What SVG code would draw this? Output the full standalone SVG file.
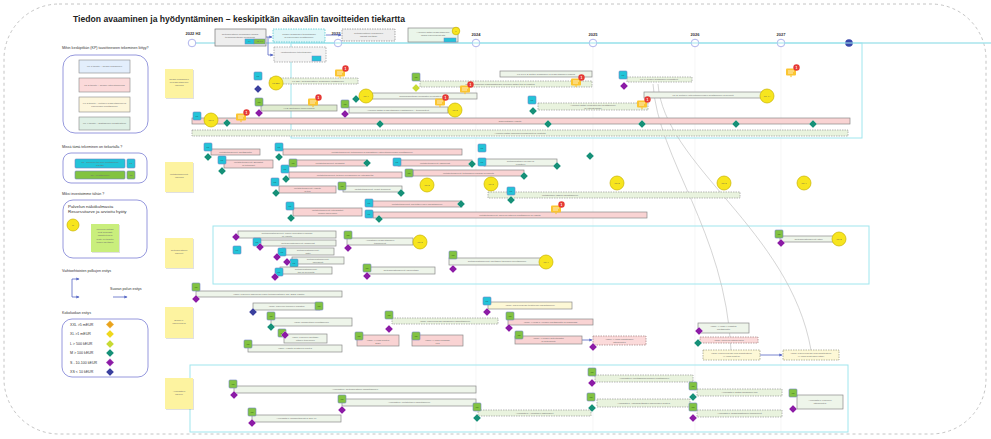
<svg xmlns="http://www.w3.org/2000/svg" width="991" height="439" viewBox="0 0 991 439">
<defs>
<style>
text{font-family:"Liberation Sans",Arial,sans-serif}
.t{font-size:2.4px;fill:#6d6d6d;text-anchor:middle}
.lt{font-size:3.6px;fill:#333}
.yr{font-size:4px;font-weight:bold;fill:#333;text-anchor:middle}
.bp{fill:#f9d3d3;stroke:#8a8a8a;stroke-width:0.7}
.bg{fill:#eef5ea;stroke:#8a8a8a;stroke-width:0.7}
.bgd{fill:#dfeccf;stroke:#8a8a8a;stroke-width:0.7}
.bd{fill:#e9f3de;stroke:#9a9a9a;stroke-width:0.7;stroke-dasharray:1.5 1}
.bpd{fill:#fbdada;stroke:#a08080;stroke-width:0.7;stroke-dasharray:1.5 1}
.byd{fill:#fdf8d6;stroke:#9a9a80;stroke-width:0.7;stroke-dasharray:1.5 1}
.by{fill:#fdf8d6;stroke:#8a8a8a;stroke-width:0.7}
.kp{fill:#f7e51e;stroke:#c9b300;stroke-width:0.7}
.tk{font-size:2.3px;fill:#555;text-anchor:middle}
.dt{fill:#169078}.dp{fill:#8c1ba6}.db{fill:#3a3f9e}.dyg{fill:#c8da34}.do{fill:#e9a31c}.dy{fill:#efd81d}
.st{fill:#fdf3a0}
.sh{fill:#000;opacity:0.12}
.lane{fill:none;stroke:#9fe6ee;stroke-width:1}
.con{fill:none;stroke:#5566c4;stroke-width:0.8}
.crv{fill:none;stroke:#b8b8b8;stroke-width:0.6}
.grid{stroke:#f0f0f0;stroke-width:0.6}
</style>
<marker id="ar" viewBox="0 0 6 6" refX="5" refY="3" markerWidth="4" markerHeight="4" orient="auto"><path d="M0,0L6,3L0,6Z" fill="#5566c4"/></marker>
<path id="d" d="M0,-4L4,0L0,4L-4,0Z" stroke="#ffffff" stroke-width="0.3"/>
<g id="qc"><rect x="0" y="0" width="8" height="8" rx="1" fill="#23c4d8" stroke="#7084c4" stroke-width="0.6"/><text x="4" y="4.9" font-size="2.4" fill="#2a5560" text-anchor="middle">T1</text></g>
<g id="qg"><rect x="0" y="0" width="8" height="8" rx="1" fill="#82c341" stroke="#7084c4" stroke-width="0.6"/><text x="4" y="4.9" font-size="2.4" fill="#2f5a1a" text-anchor="middle">T2</text></g>
<g id="cm"><rect x="-5" y="-3.5" width="10" height="7" rx="1" fill="#fbc531"/><path d="M-1.2,3.4L0,5.4L1.2,3.4Z" fill="#fbc531"/><path d="M-3,-1H3M-3,1H2" stroke="#fff" stroke-width="0.7"/><circle cx="5.5" cy="-4.5" r="3.2" fill="#e53935"/><text x="5.5" y="-3.3" font-size="3.4" fill="#fff" text-anchor="middle" font-weight="bold">1</text></g>
</defs>

<rect x="0" y="0" width="991" height="439" fill="#ffffff"/>
<rect x="4" y="4" width="982" height="430" rx="55" fill="none" stroke="#b5b5b5" stroke-width="0.8" stroke-dasharray="3 3"/>

<g id="grid">
<line class="grid" x1="476" y1="46" x2="476" y2="432"/>
<line class="grid" x1="593" y1="46" x2="593" y2="432"/>
<line class="grid" x1="695" y1="46" x2="695" y2="432"/>
<line class="grid" x1="781" y1="46" x2="781" y2="432"/>
</g>

<text x="73" y="22" font-size="9.5" font-weight="bold" fill="#222" textLength="332" lengthAdjust="spacingAndGlyphs">Tiedon avaaminen ja hyödyntäminen – keskipitkän aikavälin tavoitteiden tiekartta</text>

<g id="timeline">
<line x1="192" y1="43" x2="991" y2="43" stroke="#a8e4ec" stroke-width="1.3"/>
<text class="yr" x="193" y="35">2022 H2</text>
<text class="yr" x="336" y="35">2023</text>
<text class="yr" x="476" y="36">2024</text>
<text class="yr" x="593" y="36">2025</text>
<text class="yr" x="695" y="36">2026</text>
<text class="yr" x="781" y="36">2027</text>
<g fill="#fff" stroke="#b0b4ec" stroke-width="1">
<circle cx="192" cy="43" r="3.8"/><circle cx="338" cy="43" r="3.8"/><circle cx="476" cy="43" r="3.8"/><circle cx="593" cy="43" r="3.8"/><circle cx="695" cy="43" r="3.8"/><circle cx="781" cy="43" r="3.8"/>
</g>
<circle cx="849" cy="43" r="3.8" fill="#3949ab"/>
</g>

<g id="lanes">
<rect class="lane" x="291" y="43" width="571" height="95"/>
<rect class="lane" x="213" y="226" width="656" height="58"/>
<rect class="lane" x="190" y="365" width="658" height="67"/>
</g>

<g id="legend-kp">
<text class="lt" x="62" y="49">Mihin keskipitkän (KP) tavoitteeseen tekeminen liittyy?</text>
<rect x="63" y="55" width="85" height="78" rx="12" fill="none" stroke="#7b7fd4" stroke-width="0.8"/>
<rect x="79" y="60" width="51" height="13" fill="#e3eefc" stroke="#888" stroke-width="0.6"/><text class="t" x="104.5" y="67.3">KP 1 tavoite – Tiedon avaaminen</text>
<rect x="79" y="78" width="51" height="14" fill="#fbdada" stroke="#888" stroke-width="0.6"/><text class="t" x="104.5" y="85.8">KP 2 tavoite – Tiedon yhteentoimivuus</text>
<rect x="79" y="97" width="51" height="15" fill="#fdf6dc" stroke="#888" stroke-width="0.6"/><text class="t" x="104.5" y="103.5">KP 3 tavoite – Tietojen hyödyntäminen ja</text><text class="t" x="104.5" y="106.8">palveluiden kehittäminen</text>
<rect x="79" y="117" width="51" height="13" fill="#dff0e6" stroke="#888" stroke-width="0.6"/><text class="t" x="104.5" y="124.3">KP 4 tavoite – Digitaalinen infrastruktuuri</text>
</g>

<g id="legend-where">
<text class="lt" x="62" y="148">Missä tämä tekeminen on tiekartalla ?</text>
<rect x="63" y="153" width="84" height="30" rx="8" fill="none" stroke="#7b7fd4" stroke-width="0.8"/>
<rect x="75" y="159" width="50" height="9" rx="1" fill="#23c4d8" stroke="#7084c4" stroke-width="0.6"/><text class="t" x="100" y="162.8" fill="#234">T1 - Tekninen tai muu kehittäminen</text><text class="t" x="100" y="165.8">(käyttö)</text>
<rect x="127" y="159" width="8" height="9" rx="1" fill="#23c4d8" stroke="#7084c4" stroke-width="0.6"/><text class="t" x="131" y="164.4">T1</text>
<rect x="75" y="171" width="50" height="8" rx="1" fill="#82c341" stroke="#7084c4" stroke-width="0.6"/><text class="t" x="100" y="175.8">T2 - Kehittäminen</text>
<rect x="127" y="171" width="8" height="8" rx="1" fill="#82c341" stroke="#7084c4" stroke-width="0.6"/><text class="t" x="131" y="175.8">T2</text>
</g>

<g id="legend-why">
<text class="lt" x="62" y="195">Miksi investoimme tähän ?</text>
<rect x="63" y="200" width="84" height="58" rx="10" fill="none" stroke="#7b7fd4" stroke-width="0.8"/>
<text x="68" y="207.5" font-size="4.4" fill="#333">Palvelun näkökulmasta</text>
<text x="68" y="212.5" font-size="4.4" fill="#333">Resurssitarve ja arvioitu hyöty</text>
<circle class="kp" cx="73" cy="225" r="6"/><text class="tk" x="73" y="225.8">M</text>
<rect class="sh" x="92" y="225" width="28" height="28"/>
<rect x="91" y="224" width="28" height="28" fill="#c9ee7c"/>
<text class="t" x="105" y="230">Palvelun mittarit</text><text class="t" x="105" y="233">ovat selkeästi</text><text class="t" x="105" y="236">määriteltyjä ja</text><text class="t" x="105" y="240">hyöty on todettu</text><text class="t" x="105" y="243">tiedon käyttäjille</text>
</g>

<g id="legend-paths">
<text class="lt" x="62" y="272">Vaihtoehtoisten polkujen esitys</text>
<path class="con" d="M72,288V279H79" marker-end="url(#ar)"/>
<path class="con" d="M72,288V297H79" marker-end="url(#ar)"/>
<text class="lt" x="110" y="290">Suoran polun esitys</text>
<path class="con" d="M113,297H127" marker-end="url(#ar)"/>
</g>

<g id="legend-size">
<text class="lt" x="62" y="314">Kokoluokan esitys</text>
<rect x="62" y="319" width="86" height="58" rx="10" fill="none" stroke="#7b7fd4" stroke-width="0.8"/>
<text class="lt" x="70" y="325.5">XXL &gt;5 mEUR</text><use href="#d" class="do" x="110" y="324.5"/>
<text class="lt" x="70" y="335">XL &gt;1 mEUR</text><use href="#d" class="dy" x="110" y="334"/>
<text class="lt" x="70" y="345">L &gt; 500 kEUR</text><use href="#d" class="dyg" x="110" y="344"/>
<text class="lt" x="70" y="354">M &gt; 100 kEUR</text><use href="#d" class="dt" x="110" y="353"/>
<text class="lt" x="70" y="363.5">S - 10-100 kEUR</text><use href="#d" class="dp" x="110" y="362.5"/>
<text class="lt" x="70" y="373">XS &lt; 10 kEUR</text><use href="#d" class="db" x="110" y="372"/>
</g>

<g id="sticky-1"><rect class="sh" x="166" y="70" width="28" height="29"/><rect class="st" x="165" y="69" width="28" height="29"/><text class="t" x="179" y="80">Tiedon avaaminen</text><text class="t" x="179" y="83">ja hyödyntäminen</text><text class="t" x="179" y="86">-ohjelma</text></g>
<g id="sticky-2"><rect class="sh" x="166" y="163" width="28" height="30"/><rect class="st" x="165" y="162" width="28" height="30"/><text class="t" x="179" y="175">Metatietopalvelut</text><text class="t" x="179" y="178">-ohjelma</text></g>
<g id="sticky-3"><rect class="sh" x="166" y="239" width="28" height="30"/><rect class="st" x="165" y="238" width="28" height="30"/><text class="t" x="179" y="251">Tietoaineistojen</text><text class="t" x="179" y="254">palvelut</text></g>
<g id="sticky-4"><rect class="sh" x="166" y="308" width="28" height="31"/><rect class="st" x="165" y="307" width="28" height="31"/><text class="t" x="179" y="321">Suomi.fi-</text><text class="t" x="179" y="324">palveluväylä</text></g>
<g id="sticky-5"><rect class="sh" x="166" y="379" width="28" height="31"/><rect class="st" x="165" y="378" width="28" height="31"/><text class="t" x="179" y="392">Avoindata.fi</text><text class="t" x="179" y="395">palvelu</text></g>

<g id="connectors">
<path class="crv" d="M653,84C658,160 725,230 731,350"/>
<path class="crv" d="M658,84C664,165 790,230 811,350"/>
<path class="con" d="M266,37H272" marker-end="url(#ar)"/>
<path class="con" d="M268,37V55H273" marker-end="url(#ar)"/>
<path class="con" d="M326,35H341" marker-end="url(#ar)"/>
<path class="con" d="M582,340H592" marker-end="url(#ar)"/>
<path class="con" d="M760,355H782" marker-end="url(#ar)"/>
</g>

<g id="top-1"><rect x="215" y="29" width="51" height="17" fill="#eeeeee" stroke="#777" stroke-width="0.7"/><text class="t" x="240" y="34.5">Tietoaineistojen avaamisen ohjaus</text><text class="t" x="240" y="37.5">tiedonhallintalain mukaisesti</text><rect x="245" y="39" width="9" height="5" fill="#23c4d8" stroke="#7084c4" stroke-width="0.5"/><rect x="254" y="39" width="11" height="5" fill="#82c341" stroke="#7084c4" stroke-width="0.5"/><text class="t" x="249.5" y="42.3">T1</text><text class="t" x="259.5" y="42.3">T2 T3</text></g>
<g id="top-2"><rect x="273" y="29" width="52" height="13" fill="#dff6f8" stroke="#46c0cc" stroke-width="0.7" stroke-dasharray="1.5 1"/><text class="t" x="299" y="34.5">Tiedon avaamisen toimintamalli</text><text class="t" x="299" y="37.5">ja palveluiden kehittäminen</text></g>
<g id="top-2b"><rect x="274" y="47" width="52" height="15" fill="#f3f3f3" stroke="#999" stroke-width="0.7" stroke-dasharray="1.5 1"/><text class="t" x="296" y="53">Vaihtoehtoinen toteutuspolku</text><rect x="312" y="56" width="9" height="5" fill="#23c4d8" stroke="#7084c4" stroke-width="0.5"/></g>
<g id="top-3"><rect x="342" y="29" width="53" height="12" fill="#eeeeee" stroke="#888" stroke-width="0.7" stroke-dasharray="1.5 1"/><text class="t" x="368.5" y="34">Tietoaineistojen avaaminen</text><text class="t" x="368.5" y="37">laajasti käyttöön</text></g>
<g id="top-4"><rect x="408" y="28" width="50" height="14" fill="#eaf6ea" stroke="#888" stroke-width="0.7"/><text class="t" x="433" y="33">Avoimen datan hyödyntäminen</text><text class="t" x="433" y="36">osana palvelukehitystä</text><rect x="444" y="38" width="12" height="4" fill="#23c4d8" stroke="#7084c4" stroke-width="0.5"/><circle class="kp" cx="456" cy="31" r="3.8"/><text class="tk" x="456" y="31.8">L</text></g>

<!-- Lane 1 -->
<g id="n-l1f"><rect class="bp" x="192" y="118" width="658" height="6"/><text class="t" x="510" y="121.9">Ohjelmatason ylläpito</text>
<rect class="bd" x="192" y="130" width="656" height="6"/><text class="t" x="520" y="133.9">Avoimen datan ohjelman koordinointi ja viestintä</text>
<use href="#qc" x="193" y="112"/><circle class="kp" cx="211" cy="120" r="7"/><text class="tk" x="211" y="120.8">KP 1</text>
<use href="#d" class="dt" x="227" y="123"/><use href="#d" class="dt" x="380" y="124"/><use href="#d" class="dt" x="548" y="124"/><use href="#d" class="dt" x="642" y="124"/><use href="#d" class="dt" x="736" y="124"/><use href="#d" class="dt" x="813" y="124"/></g>
<g id="n-l1a"><rect class="bd" x="270" y="78" width="88" height="6"/><text class="t" x="318" y="81.9">KP 3&amp;4: Tietoaineistojen avaamisen edistäminen</text><use href="#qc" x="254" y="72"/><use href="#d" class="db" x="258" y="89"/><circle class="kp" cx="276" cy="83" r="7"/><text class="tk" x="276" y="83.8">KP 3&amp;4</text></g>
<g id="n-l1b"><rect class="bg" x="500" y="71" width="92" height="6"/><text class="t" x="546" y="74.9">KP 1/KP 2: Datan avaamisen ja hyödyntämisen ohjaus</text><rect class="bd" x="420" y="81" width="172" height="6"/><text class="t" x="500" y="84.9">Julkisen hallinnon organisaatioiden avoimen datan tuki ja opastus</text><use href="#qg" x="412" y="73"/><use href="#d" class="dyg" x="416" y="88"/></g>
<g id="n-l1c"><rect class="bg" x="372" y="93" width="105" height="6"/><text class="t" x="424" y="96.9">Tiedonhallintalain mukaisten kuvausten ylläpito</text><use href="#d" class="dt" x="356" y="99"/><circle class="kp" cx="366" cy="96" r="7"/><text class="tk" x="366" y="96.8">KP 4</text></g>
<g id="n-l1d"><rect class="bg" x="349" y="107" width="99" height="6"/><text class="t" x="398" y="110.9">Avoimen datan hyödyntämisen edistäminen – toimenpiteet</text><use href="#qg" x="341" y="100"/><use href="#d" class="dp" x="345" y="114"/><circle class="kp" cx="455" cy="110" r="7"/><text class="tk" x="455" y="110.8">KP 3</text></g>
<g id="n-l1e"><rect class="bgd" x="261" y="105" width="76" height="6"/><text class="t" x="299" y="108.9">HVD-asetuksen toimeenpano</text><use href="#qg" x="255" y="98"/><use href="#d" class="dp" x="259" y="113"/></g>
<g id="n-l1g"><rect class="bd" x="627" y="77" width="65" height="5"/><text class="t" x="659" y="80.4">KP 1: Tiedon avaamisen periaatteet</text><use href="#qc" x="619" y="71"/><use href="#d" class="dp" x="624" y="86"/></g>
<g id="n-l1h"><rect class="bg" x="644" y="92" width="118" height="6"/><text class="t" x="703" y="95.9">KP 2: Tietojen yhteentoimivuuden kehittäminen ja arviointi</text><circle class="kp" cx="767" cy="96" r="7"/><text class="tk" x="767" y="96.8">KP 4A</text></g>
<g id="n-l1i"><rect class="bd" x="538" y="103" width="110" height="7"/><text class="t" x="593" y="105.8">Avoimen datan ekosysteemin kehittäminen</text><text class="t" x="593" y="108.6">ja yhteistyömalli</text><use href="#qc" x="528" y="96"/><use href="#d" class="dt" x="533" y="111"/></g>
<g id="comments-1">
<use href="#cm" x="340" y="73"/><use href="#cm" x="576" y="82"/><use href="#cm" x="465" y="89"/><use href="#cm" x="440" y="102"/><use href="#cm" x="313" y="102"/><use href="#cm" x="241" y="117"/><use href="#cm" x="642" y="104"/><use href="#cm" x="791" y="72"/>
</g>

<!-- Lane 2 -->
<g id="n-l2a"><rect class="bp" x="211" y="149" width="49" height="6"/><text class="t" x="235.5" y="152.9">Metatietopalvelut: käyttöönotto</text><use href="#qc" x="204" y="143"/><use href="#d" class="dt" x="208" y="157"/></g>
<g id="n-l2b"><rect class="bp" x="224" y="160" width="49" height="8"/><text class="t" x="248.5" y="163.3">Metatietopalvelut: Sanastot</text><text class="t" x="248.5" y="166.3">ja tietomallit</text><use href="#qc" x="218" y="156"/><use href="#d" class="dt" x="222" y="171"/></g>
<g id="n-l2c"><rect class="bp" x="283" y="149" width="179" height="6"/><text class="t" x="372" y="152.9">Metatietopalvelut: tietomallien ja sanastojen yhteentoimivuuden kehittäminen</text><use href="#qc" x="275" y="143"/><use href="#d" class="dt" x="279" y="157"/></g>
<g id="n-l2d"><rect class="bp" x="293" y="160" width="74" height="6"/><text class="t" x="330" y="163.9">Metatietopalvelut: koodistot</text><use href="#qg" x="289" y="159"/><use href="#d" class="dt" x="367" y="163"/></g>
<g id="n-l2e"><rect class="bp" x="289" y="172" width="113" height="6"/><text class="t" x="345" y="175.9">Metatietopalvelut: tietojen kuvaaminen ja yhteiskäyttö</text><use href="#qc" x="281" y="165"/><use href="#d" class="dt" x="286" y="179"/></g>
<g id="n-l2f"><rect class="bp" x="279" y="186" width="57" height="7"/><text class="t" x="307.5" y="188.8">Metatietopalvelut: ylläpito</text><text class="t" x="307.5" y="191.6">ja tuki</text><use href="#qc" x="271" y="178"/><use href="#d" class="dt" x="276" y="193"/></g>
<g id="n-l2g"><rect class="bg" x="343" y="186" width="59" height="6"/><text class="t" x="372.5" y="189.9">Metatietopalvelut: uudet toiminnot</text><use href="#qg" x="338" y="182"/><use href="#d" class="dt" x="401" y="193"/></g>
<g id="n-l2h"><rect class="bp" x="293" y="208" width="69" height="8"/><text class="t" x="327.5" y="211.3">Metatietopalvelut: integraatiot</text><text class="t" x="327.5" y="214.3">muihin palveluihin</text><use href="#qc" x="286" y="202"/><use href="#d" class="dt" x="291" y="218"/></g>
<g id="n-l2i"><rect class="bp" x="398" y="160" width="74" height="6"/><text class="t" x="435" y="163.9">Metatietopalvelut: rajapinnat</text><use href="#qc" x="393" y="158"/><use href="#d" class="dt" x="472" y="164"/></g>
<g id="n-l2j"><rect class="bp" x="413" y="170" width="111" height="6"/><text class="t" x="468.5" y="173.9">Metatietopalvelut: tietomallien julkaisu ja hallinta</text><use href="#qg" x="405" y="169"/><use href="#d" class="dt" x="524" y="176"/></g>
<g id="n-l2k"><rect class="bp" x="372" y="201" width="90" height="6"/><text class="t" x="417" y="204.9">Metatietopalvelut: käytettävyyden parantaminen</text><use href="#qc" x="365" y="199"/><use href="#d" class="dt" x="461" y="204"/></g>
<g id="n-l2l"><rect class="bp" x="373" y="212" width="274" height="6"/><text class="t" x="510" y="215.9">Metatietopalvelut: palvelun jatkuva kehittäminen ja ylläpito</text><use href="#qc" x="365" y="210"/><use href="#d" class="dt" x="379" y="219"/></g>
<g id="n-l2m"><use href="#qc" x="478" y="144"/></g>
<g id="n-l2n"><rect class="bg" x="484" y="159" width="73" height="7"/><text class="t" x="520.5" y="161.8">Tietoaineistojen kuvailu ja</text><text class="t" x="520.5" y="164.6">luokittelu</text><use href="#qc" x="478" y="158"/><use href="#d" class="dt" x="557" y="166"/></g>
<g id="n-l2o"><rect class="bd" x="488" y="192" width="252" height="6"/><text class="t" x="560" y="195.9">Metatietojen laadun parantaminen</text><use href="#qc" x="507" y="187"/><use href="#d" class="dt" x="511" y="200"/></g>
<g id="n-l2p"><use href="#d" class="dt" x="590" y="156"/><use href="#cm" x="556" y="209"/></g>
<g id="kp-l2">
<circle class="kp" cx="427" cy="185" r="7"/><text class="tk" x="427" y="185.8">KP 2</text>
<circle class="kp" cx="491" cy="184" r="7"/><text class="tk" x="491" y="184.8">KP 3</text>
<circle class="kp" cx="617" cy="183" r="7"/><text class="tk" x="617" y="183.8">KP 2</text>
<circle class="kp" cx="724" cy="183" r="7"/><text class="tk" x="724" y="183.8">KP 3</text>
<circle class="kp" cx="804" cy="183" r="7"/><text class="tk" x="804" y="183.8">KP 4</text>
</g>

<!-- Lane 3 -->
<g id="n-l3a"><rect class="bg" x="238" y="231" width="98" height="7"/><text class="t" x="287" y="233.8">Tietoaineistopalvelut: uusien aineistojen julkaisu</text><text class="t" x="287" y="236.6">ja ylläpito</text><use href="#d" class="dp" x="236" y="237"/></g>
<g id="n-l3b"><rect class="bg" x="260" y="240" width="76" height="6"/><text class="t" x="298" y="243.9">Tietoaineistopalvelut: rajapinnat</text><use href="#qc" x="253" y="238"/><use href="#d" class="dp" x="260" y="247"/></g>
<g id="n-l3c"><use href="#qc" x="233" y="246"/></g>
<g id="n-l3d"><rect class="bg" x="282" y="248" width="52" height="7"/><text class="t" x="308" y="250.8">Tietoaineistopalvelut:</text><text class="t" x="308" y="253.6">laatu</text><use href="#qc" x="278" y="248"/><use href="#d" class="dp" x="277" y="257"/></g>
<g id="n-l3e"><rect class="bg" x="292" y="257" width="52" height="7"/><text class="t" x="318" y="259.8">Tietoaineistopalvelut:</text><text class="t" x="318" y="262.6">lisensointi</text><use href="#qc" x="290" y="259"/><use href="#d" class="dp" x="287" y="262"/></g>
<g id="n-l3f"><rect class="bg" x="280" y="267" width="52" height="7"/><text class="t" x="306" y="269.8">Tietoaineistopalvelut:</text><text class="t" x="306" y="272.6">tuki ja neuvonta</text><use href="#qc" x="275" y="268"/><use href="#d" class="dp" x="275" y="277"/></g>
<g id="n-l3g"><rect class="bg" x="347" y="238" width="66" height="7"/><text class="t" x="380" y="240.8">Aineistojen hyödyntämisen</text><text class="t" x="380" y="243.6">tukipalvelut</text><use href="#qg" x="344" y="231"/><use href="#d" class="dp" x="348" y="248"/><circle class="kp" cx="420" cy="242" r="7"/><text class="tk" x="420" y="242.8">KP 3</text></g>
<g id="n-l3h"><rect class="bg" x="367" y="267" width="68" height="7"/><text class="t" x="401" y="271.3">Tietoaineistopalvelut: palvelutaso</text><use href="#qg" x="363" y="264"/><use href="#d" class="dp" x="367" y="276"/></g>
<g id="n-l3i"><rect class="bg" x="449" y="258" width="96" height="7"/><text class="t" x="497" y="262.3">Tietoaineistopalvelut: käyttäjien tarpeiden selvittäminen</text><use href="#qg" x="449" y="251"/><use href="#d" class="dp" x="453" y="269"/><circle class="kp" cx="546" cy="262" r="7"/><text class="tk" x="546" y="262.8">KP 4</text></g>
<g id="n-l3j"><rect class="bg" x="780" y="236" width="57" height="6"/><text class="t" x="808.5" y="239.9">Tietoaineistopalvelut: jatko</text><use href="#qg" x="775" y="230"/><use href="#d" class="dp" x="781" y="243"/><circle class="kp" cx="839" cy="239" r="7"/><text class="tk" x="839" y="239.8">KP 2</text></g>

<!-- Lane 4 -->
<g id="n-l4a"><rect class="bg" x="196" y="291" width="146" height="6"/><text class="t" x="269" y="294.9">Vaihe: Palvelun laajennus uusiin tietoaineistoihin (sis. 2023 ylläpito)</text><use href="#qg" x="192" y="283"/><use href="#d" class="dp" x="196" y="299"/></g>
<g id="n-l4b"><rect class="bg" x="253" y="303" width="67" height="7"/><text class="t" x="286.5" y="307.3">Vaihe: Palvelun tekninen uudistus</text><use href="#qg" x="315" y="302"/><use href="#d" class="db" x="253" y="312"/></g>
<g id="n-l4c"><rect class="bg" x="271" y="318" width="81" height="8"/><text class="t" x="311.5" y="322.8">Vaihe: Rajapintojen kehittäminen</text><use href="#qg" x="267" y="312"/><use href="#d" class="dt" x="271" y="327"/></g>
<g id="n-l4d"><rect class="bg" x="284" y="334" width="43" height="9"/><text class="t" x="305.5" y="337.8">Vaihe: Palvelun käyttöön-</text><text class="t" x="305.5" y="340.8">ottojen tukeminen</text><use href="#qg" x="278" y="329"/><use href="#d" class="dp" x="285" y="335"/></g>
<g id="n-l4e"><rect class="bg" x="248" y="345" width="94" height="7"/><text class="t" x="295" y="349.3">Vaihe: Ylläpito ja jatkuva kehitys</text><use href="#qg" x="244" y="340"/></g>
<g id="n-l4f"><rect class="bd" x="392" y="318" width="106" height="6"/><text class="t" x="445" y="321.9">Vaihe: Palveluväylän kansallinen laajentaminen</text><use href="#qg" x="385" y="311"/><use href="#d" class="dp" x="389" y="329"/></g>
<g id="n-l4g"><rect class="bp" x="357" y="335" width="42" height="11"/><text class="t" x="378" y="341">Vaihe: X-road kehitys</text><text class="t" x="378" y="344">2024</text><use href="#qg" x="355" y="332"/></g>
<g id="n-l4h"><rect class="bp" x="412" y="335" width="51" height="11"/><text class="t" x="437.5" y="341">Vaihe: X-road Message</text><text class="t" x="437.5" y="344">Log</text><use href="#qg" x="412" y="332"/></g>
<g id="n-l4i"><rect class="by" x="488" y="302" width="84" height="7"/><text class="t" x="530" y="306.3">Vaihe: Palveluväylän tietoturvan parantaminen</text><use href="#qc" x="483" y="297"/><use href="#d" class="dp" x="487" y="312"/></g>
<g id="n-l4j"><rect class="bp" x="508" y="319" width="85" height="6"/><text class="t" x="550.5" y="322.9">Vaihe: X-road 8 -version käyttöönotto ja mallikkaas</text><use href="#qg" x="506" y="312"/><use href="#d" class="dp" x="509" y="328"/></g>
<g id="n-l4k"><rect class="bp" x="515" y="336" width="67" height="8"/><text class="t" x="548.5" y="339.3">Vaihe: X-road:n autentikaatio</text><text class="t" x="548.5" y="342.3">ja autorisointi</text><use href="#qg" x="515" y="331"/><rect class="bpd" x="593" y="336" width="53" height="9"/><text class="t" x="619.5" y="339.8">Vaihe: X-road uudistuksen</text><text class="t" x="619.5" y="342.8">jatkokehitys</text><use href="#d" class="dp" x="593" y="347"/></g>
<g id="n-l4l"><rect class="bg" x="698" y="323" width="51" height="10"/><text class="t" x="723.5" y="327.3">Vaihe: X-road 9 uudistus</text><text class="t" x="723.5" y="330.3">käyttöönotto</text><use href="#d" class="dp" x="699" y="331"/></g>
<g id="n-l4m"><rect class="bpd" x="700" y="337" width="58" height="6"/><text class="t" x="729" y="340.9">Vaihe: Palvelun jatkokehitys</text><use href="#d" class="dt" x="698" y="343"/></g>
<g id="n-l4n"><rect class="byd" x="703" y="350" width="57" height="10"/><text class="t" x="731.5" y="354">Vaihe: Palveluväylän uusi arkkitehtuuri</text><text class="t" x="731.5" y="357">(X-road kehitys)</text></g>
<g id="n-l4o"><rect class="byd" x="783" y="350" width="56" height="10"/><text class="t" x="811" y="354">Vaihe: Palveluväylän uusi arkkitehtuuri</text><text class="t" x="811" y="357">(X-road kehityksen jatko)</text></g>

<!-- Lane 5 -->
<g id="n-l5a"><rect class="bg" x="234" y="386" width="242" height="7"/><text class="t" x="355" y="390.3">Avoindata.fi: Tietoaineistojen hajauttaminen</text><use href="#qg" x="229" y="380"/><use href="#d" class="dp" x="234" y="395"/></g>
<g id="n-l5b"><rect class="bg" x="342" y="399" width="134" height="7"/><text class="t" x="409" y="403.3">Avoindata.fi: Metatietojen parantaminen</text><use href="#qg" x="338" y="395"/><use href="#d" class="dp" x="342" y="410"/></g>
<g id="n-l5c"><rect class="bg" x="252" y="415" width="89" height="7"/><text class="t" x="296.5" y="419.3">Avoindata.fi: Rajapintakehitys (DCAT)</text><use href="#qg" x="248" y="408"/><use href="#d" class="dp" x="252" y="423"/></g>
<g id="n-l5d"><rect class="bd" x="478" y="410" width="113" height="6"/><text class="t" x="534.5" y="413.9">Avoindata.fi: Aineistojen laatuohjeet</text><use href="#qg" x="473" y="403"/><use href="#d" class="dt" x="477" y="418"/></g>
<g id="n-l5e"><rect class="bd" x="595" y="375" width="98" height="7"/><text class="t" x="644" y="379.3">Avoindata.fi: Käyttäjäkokemuksen kehittäminen</text><use href="#qg" x="588" y="368"/><use href="#d" class="dp" x="592" y="383"/></g>
<g id="n-l5f"><rect class="bd" x="697" y="389" width="85" height="7"/><text class="t" x="739.5" y="393.3">Avoindata.fi: Datan jakamisen tuki</text><use href="#qg" x="689" y="382"/><use href="#d" class="dt" x="693" y="397"/></g>
<g id="n-l5g"><rect class="bd" x="597" y="399" width="93" height="8"/><text class="t" x="643.5" y="403.8">Avoindata.fi: Yhteiskäyttöisten palveluiden kehitys</text><use href="#qg" x="587" y="393"/><use href="#d" class="dt" x="592" y="408"/></g>
<g id="n-l5h"><rect class="bd" x="697" y="410" width="85" height="7"/><text class="t" x="739.5" y="414.3">Avoindata.fi: Organisaatioiden tukipalvelut</text><use href="#qg" x="689" y="403"/><use href="#d" class="dp" x="693" y="418"/></g>
<g id="n-l5i"><rect class="bg" x="797" y="395" width="46" height="14"/><text class="t" x="820" y="401">Avoindata.fi: Palvelun</text><text class="t" x="820" y="404">jatkokehitys</text><use href="#qg" x="789" y="389"/><use href="#d" class="dp" x="793" y="409"/></g>
</svg>
